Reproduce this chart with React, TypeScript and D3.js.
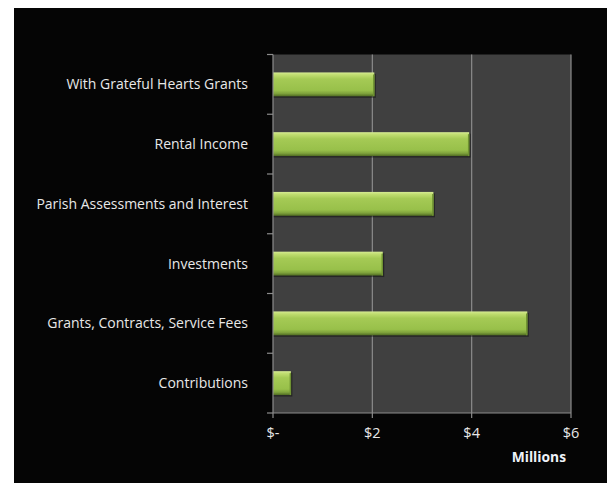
import React, { useEffect, useRef } from 'react';
import * as d3 from 'd3';

const categories = [
  'With Grateful Hearts Grants',
  'Rental Income',
  'Parish Assessments and Interest',
  'Investments',
  'Grants, Contracts, Service Fees',
  'Contributions',
];
const values = [2.04, 3.95, 3.23, 2.21, 5.12, 0.36];
const xTicks = [0, 2, 4, 6];
const xTickLabels = ['$-', '$2', '$4', '$6'];

const App: React.FC = () => {
  const svgRef = useRef<SVGSVGElement>(null);

  useEffect(() => {
    if (!svgRef.current) return;
    const width = 607;
    const height = 483;
    const plot = { left: 273, right: 571, top: 54.5, bottom: 413 };
    const font = 'Open Sans, sans-serif';

    const svg = d3.select(svgRef.current);
    svg.selectAll('*').remove();

    // panel
    svg.append('rect').attr('width', width).attr('height', height).attr('fill', '#ffffff');
    svg.append('rect').attr('x', 14).attr('y', 8).attr('width', width - 14).attr('height', height - 8).attr('fill', '#050505');

    const defs = svg.append('defs');
    const grad = defs.append('linearGradient').attr('id', 'barGrad').attr('x1', 0).attr('y1', 0).attr('x2', 0).attr('y2', 1);
    [
      ['0%', '#d6eb94'],
      ['10%', '#c0dd70'],
      ['28%', '#a5ca55'],
      ['75%', '#98c04a'],
      ['88%', '#7fa33c'],
      ['100%', '#4f6b22'],
    ].forEach(([o, c]) => grad.append('stop').attr('offset', o).attr('stop-color', c));

    const x = d3.scaleLinear().domain([0, 6]).range([plot.left, plot.right]);
    const y = d3.scaleBand().domain(categories).range([plot.top, plot.bottom]).paddingInner(0.6).paddingOuter(0.3);
    const yOuter = d3.scaleBand().domain(categories).range([plot.top, plot.bottom]);

    svg.append('rect')
      .attr('x', plot.left).attr('y', plot.top)
      .attr('width', plot.right - plot.left).attr('height', plot.bottom - plot.top)
      .attr('fill', '#404040');

    // gridlines
    svg.append('g').selectAll('line').data(xTicks.slice(1)).enter().append('line')
      .attr('x1', d => x(d)).attr('x2', d => x(d))
      .attr('y1', plot.top).attr('y2', plot.bottom)
      .attr('stroke', '#8c8c8c').attr('stroke-width', 1.2);

    // bars
    const barG = svg.append('g');
    categories.forEach((c, i) => {
      const by = y(c) || 0;
      const bh = y.bandwidth();
      barG.append('rect')
        .attr('x', x(0)).attr('y', by + 1.5)
        .attr('width', x(values[i]) - x(0) + 1.5).attr('height', bh)
        .attr('fill', 'rgba(0,0,0,0.4)');
      barG.append('rect')
        .attr('x', x(0)).attr('y', by)
        .attr('width', x(values[i]) - x(0)).attr('height', bh)
        .attr('fill', 'url(#barGrad)');
      barG.append('line')
        .attr('x1', x(values[i]) - 0.5).attr('x2', x(values[i]) - 0.5)
        .attr('y1', by + 2).attr('y2', by + bh)
        .attr('stroke', '#6f9232').attr('stroke-width', 1.5);
    });

    // y axis
    svg.append('line')
      .attr('x1', plot.left).attr('x2', plot.left)
      .attr('y1', plot.top).attr('y2', plot.bottom)
      .attr('stroke', '#8c8c8c').attr('stroke-width', 1.2);
    const yBounds = categories.map(c => yOuter(c) || 0).concat([plot.bottom]);
    svg.append('g').selectAll('line').data(yBounds).enter().append('line')
      .attr('x1', plot.left - 6).attr('x2', plot.left)
      .attr('y1', d => d).attr('y2', d => d)
      .attr('stroke', '#8c8c8c').attr('stroke-width', 1.2);

    svg.append('g').selectAll('text').data(categories).enter().append('text')
      .attr('x', 248)
      .attr('y', d => (yOuter(d) || 0) + yOuter.bandwidth() / 2)
      .attr('dy', '0.35em')
      .attr('text-anchor', 'end')
      .attr('fill', '#e8e8e8')
      .attr('font-family', font)
      .attr('font-size', '14px')
      .text(d => d);

    // x axis
    svg.append('line')
      .attr('x1', plot.left).attr('x2', plot.right)
      .attr('y1', plot.bottom).attr('y2', plot.bottom)
      .attr('stroke', '#8c8c8c').attr('stroke-width', 1.2);
    svg.append('g').selectAll('line').data(xTicks).enter().append('line')
      .attr('x1', d => x(d)).attr('x2', d => x(d))
      .attr('y1', plot.bottom).attr('y2', plot.bottom + 5)
      .attr('stroke', '#8c8c8c').attr('stroke-width', 1.2);
    svg.append('g').selectAll('text').data(xTicks).enter().append('text')
      .attr('x', d => x(d))
      .attr('y', 433)
      .attr('dy', '0.35em')
      .attr('text-anchor', 'middle')
      .attr('fill', '#e8e8e8')
      .attr('font-family', font)
      .attr('font-size', '14.5px')
      .text((d, i) => xTickLabels[i]);

    svg.append('text')
      .attr('x', 566).attr('y', 457)
      .attr('dy', '0.35em')
      .attr('text-anchor', 'end')
      .attr('fill', '#eef2f8')
      .attr('font-family', font)
      .attr('font-weight', 'bold')
      .attr('font-size', '13.8px')
      .text('Millions');
  }, []);

  return (
    <svg ref={svgRef} width={607} height={483} style={{ position: 'absolute', left: 0, top: 0 }} />
  );
};

export default App;
